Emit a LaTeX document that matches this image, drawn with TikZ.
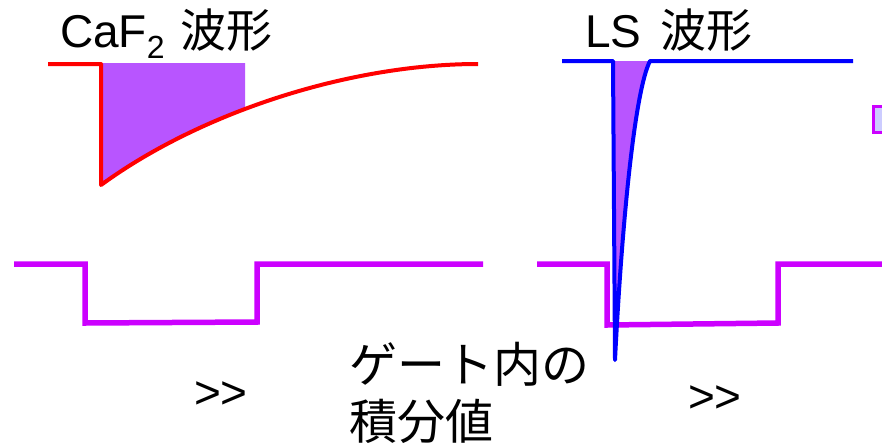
\documentclass[tikz,border=0pt]{standalone}
\usepackage{fontspec}
\setmainfont{Liberation Sans}
\newfontfamily\jp{Noto Sans CJK JP}
\definecolor{gatepurple}{HTML}{CC00FF}
\definecolor{areapurple}{HTML}{B855FF}
\definecolor{lavender}{HTML}{CCCCFF}
\definecolor{wred}{HTML}{FF0000}
\definecolor{wblue}{HTML}{0000FF}
\tikzset{
  gateline/.style={draw=gatepurple, line width=5.5pt},
  redwave/.style={draw=wred, line width=4pt, line join=round},
  bluewave/.style={draw=wblue, line width=4pt, line join=round},
  area/.style={fill=areapurple},
  label/.style={inner sep=0pt, outer sep=0pt, font=\fontsize{46}{46}\selectfont},
  jplabel/.style={inner sep=0pt, outer sep=0pt, font=\jp\fontsize{48}{57}\selectfont},
}
\begin{document}
\begin{tikzpicture}[x=1pt, y=-1pt]
\path[use as bounding box] (0,0) rectangle (882,447);
\clip (0,0) rectangle (882,447);
\fill[white] (0,0) rectangle (882,447);

% CaF2 waveform: integrated area
\begin{scope}
  \clip (101,55) rectangle (245,195);
  \fill[area] (101,63) -- (101,185) .. controls (201,112) and (350,64) .. (478,64) -- (478,63) -- cycle;
\end{scope}
\draw[redwave] (48,64) -- (101,64) -- (101,185) .. controls (201,112) and (350,64) .. (478,64);

% LS waveform: integrated area
\fill[area] (613,61) -- (615,360) .. controls (622,220) and (635,90) .. (650,61) -- cycle;

% gate pulses
\draw[gateline] (14,264) -- (85,264) -- (85,323) -- (257,322) -- (257,264) -- (483,264);
\draw[gateline] (537,264) -- (607,264) -- (607,325) -- (778,323) -- (778,264) -- (882,264);

% LS waveform
\draw[bluewave] (562,61) -- (613,61) -- (615,360) .. controls (622,220) and (635,90) .. (650,61) -- (853,61);

% partial box at right edge
\draw[draw=gatepurple, line width=3pt, fill=lavender] (873,106) rectangle (900,132);

% labels
\node[label, anchor=base west] (caf) at (60,47) {CaF\raisebox{-11pt}{\fontsize{32}{32}\selectfont 2}\hspace{16pt}{\jp 波形}};
\node[label, anchor=base west] (ls) at (585,47) {LS\hspace{19pt}{\jp 波形}};
\node[jplabel, anchor=base west] (gate1) at (349,382) {ゲート内の};
\node[jplabel, anchor=base west] (gate2) at (349,439) {積分値};
\node[label, anchor=base west] (gg1) at (194,408) {>\kern0pt>};
\node[label, anchor=base west] (gg2) at (688,412) {>\kern0pt>};
\end{tikzpicture}
\end{document}
